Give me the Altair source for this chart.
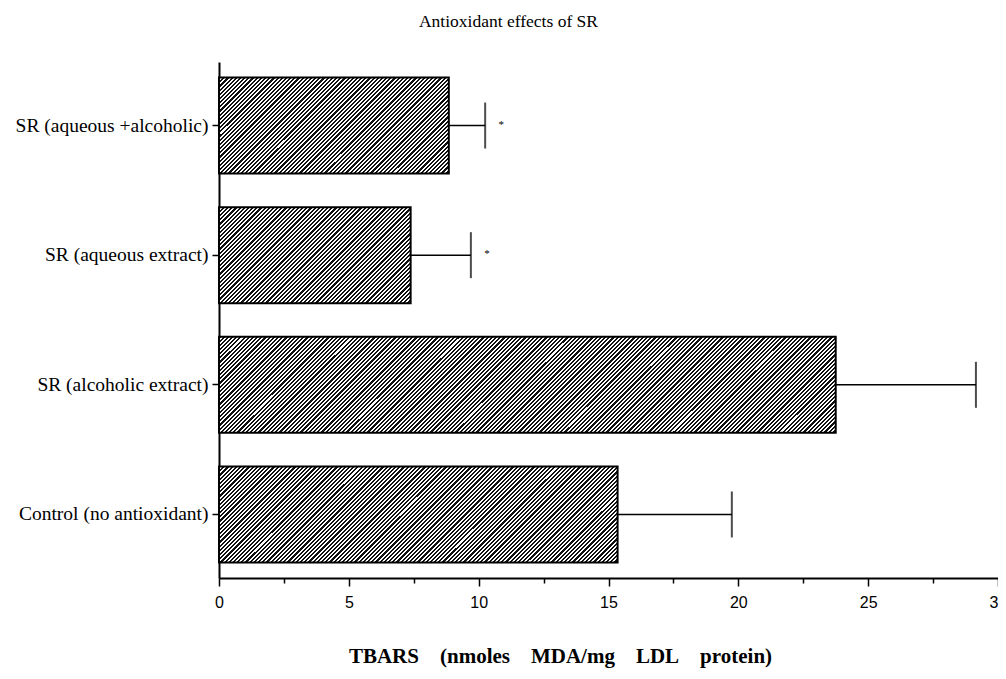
import altair as alt
import pandas as pd

categories = ["SR (aqueous +alcoholic)", "SR (aqueous extract)",
              "SR (alcoholic extract)", "Control (no antioxidant)"]
means = [8.85, 7.38, 23.75, 15.35]
uppers = [10.25, 9.7, 29.15, 19.75]
marks = ["*", "*", "", ""]
x_ticks = [0, 2.5, 5, 7.5, 10, 12.5, 15, 17.5, 20, 22.5, 25, 27.5, 30]

df = pd.DataFrame({"category": categories, "mean": means, "upper": uppers, "mark": marks})

W, H = 779, 516
XMAX = 30
BAR_H = 96
PERIOD = 4.2
DARK = 0.52


def hatch(value):
    w = value * W / XMAX
    h = BAR_H
    L = w + h
    k = L / (w + h * h / w)
    n = int(L / PERIOD) + 1
    stops = []
    for j in range(n):
        a = j / n
        b = (j + DARK) / n
        c = (j + 1) / n
        stops += [{"offset": a, "color": "#111"}, {"offset": b, "color": "#111"},
                  {"offset": b, "color": "#fff"}, {"offset": c, "color": "#fff"}]
    return {"gradient": "linear", "x1": 0, "y1": 0, "x2": k, "y2": k * h / w, "stops": stops}


xscale = alt.Scale(domain=[0, XMAX], nice=False, zero=True)
yscale = alt.Scale(domain=categories, paddingInner=0.26, paddingOuter=0.12)

sp = "\u00a0" * 4
xaxis = alt.Axis(
    values=x_ticks, labelExpr="datum.value % 5 === 0 ? datum.label : ''",
    grid=False, domainColor="black", domainWidth=2, tickColor="black", tickWidth=1.5,
    tickSize={"condition": {"test": "datum.value % 5 === 0", "value": 8}, "value": 5},
    labelFont="Liberation Sans", labelFontSize=16, labelColor="black", labelPadding=8,
    labelFlush=False,
    title=f"TBARS{sp}(nmoles{sp}MDA/mg{sp}LDL{sp}protein)",
    titleFont="Liberation Serif", titleFontSize=21, titleFontWeight="bold", titleColor="black",
    titleX=341, titleY=78, titleAlign="center", titleBaseline="middle", titleAnchor="start",
)
yaxis = alt.Axis(
    title=None, domainColor="black", domainWidth=2, tickColor="black", tickWidth=1.5,
    tickSize=7, labelFont="Liberation Serif", labelFontSize=19.5, labelColor="black",
    labelPadding=4, labelLimit=400,
)

base = alt.Chart(df)

bars = []
for cat, m in zip(categories, means):
    bars.append(
        base.transform_filter(alt.datum.category == cat)
        .mark_bar(fill=hatch(m), stroke="black", strokeWidth=2)
        .encode(x=alt.X("mean:Q", scale=xscale, axis=xaxis),
                y=alt.Y("category:N", scale=yscale, axis=yaxis, sort=categories))
    )

err = base.mark_rule(color="black", strokeWidth=1.5).encode(
    x="mean:Q", x2="upper:Q", y=alt.Y("category:N", sort=categories))
cap = base.mark_tick(color="black", thickness=2, size=46, orient="vertical").encode(
    x="upper:Q", y=alt.Y("category:N", sort=categories))
star = base.mark_text(color="black", fontSize=11, dx=16, dy=-1, font="Liberation Serif").encode(
    x="upper:Q", y=alt.Y("category:N", sort=categories), text="mark:N")

chart = alt.layer(*bars, err, cap, star).properties(
    width=W, height=H,
    title=alt.TitleParams("Antioxidant effects of SR", font="Liberation Serif", fontSize=17.5,
                          fontWeight="normal", color="black", offset=32, dx=-100, anchor="middle"),
    autosize=alt.AutoSizeParams(type="none"),
    padding={"left": 211, "top": 54, "right": 0, "bottom": 92},
).configure(background="white").configure_view(stroke=None)

chart.save("out.html", embed_options={"renderer": "svg", "actions": False})
